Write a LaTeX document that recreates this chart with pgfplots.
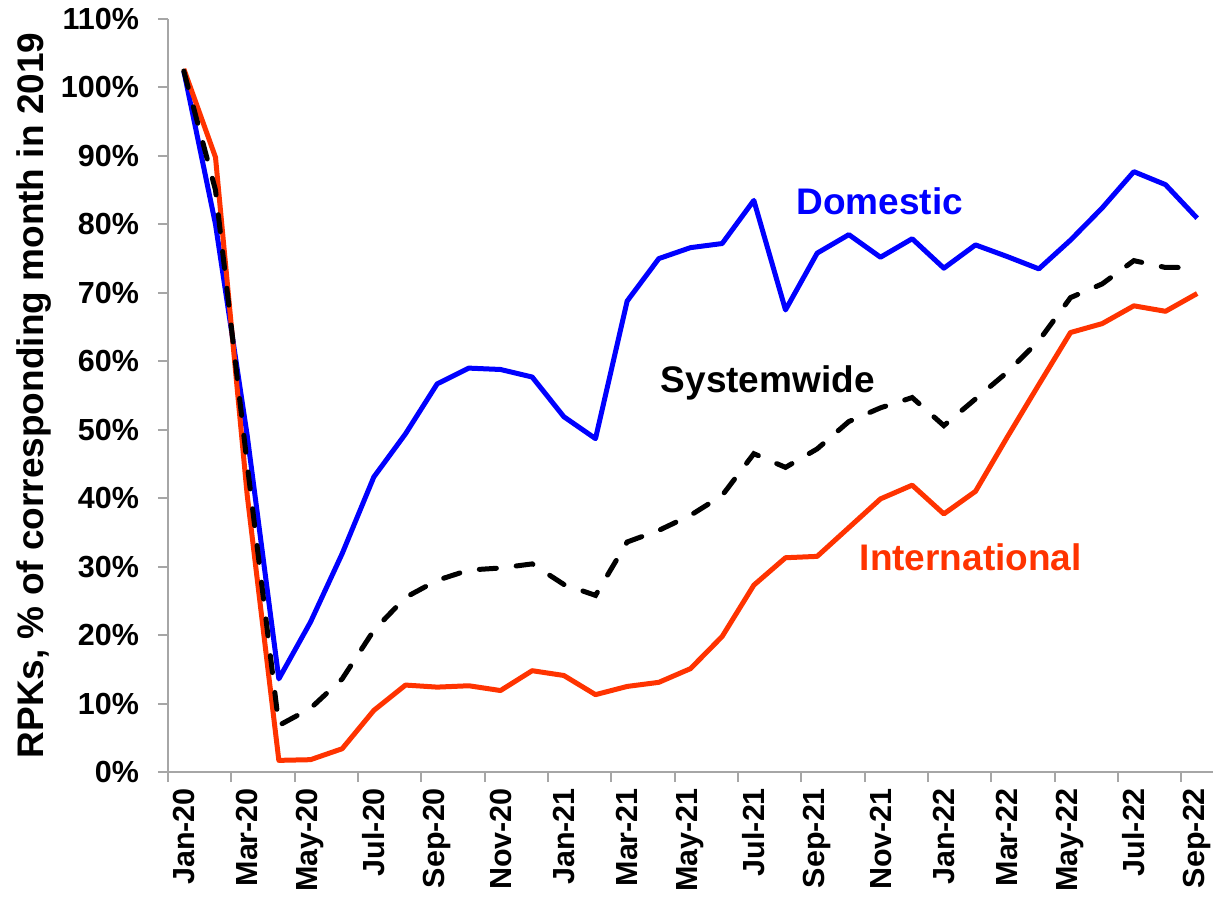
\documentclass[border=0pt]{standalone}
\usepackage{pgfplots}
\pgfplotsset{compat=1.18}
\usepackage{fontspec}
\setmainfont{Liberation Sans}
\definecolor{dom}{RGB}{0,0,255}
\definecolor{intl}{RGB}{255,51,0}
\definecolor{axgray}{RGB}{166,166,166}
\pgfplotstableread{
i dom intl sys
0 102.4 102.7 102.4
1 80.0 89.8 85.0
2 49.2 40.5 45.0
3 13.6 1.7 6.8
4 21.9 1.8 9.3
5 31.9 3.4 13.6
6 43.1 9.0 20.7
7 49.4 12.7 25.5
8 56.7 12.4 28.0
9 59.0 12.6 29.5
10 58.8 11.9 29.8
11 57.7 14.8 30.4
12 51.9 14.1 27.4
13 48.7 11.3 25.8
14 68.8 12.5 33.6
15 75.0 13.1 35.3
16 76.6 15.1 37.5
17 77.2 19.8 40.4
18 83.5 27.3 46.5
19 67.5 31.3 44.5
20 75.8 31.5 47.2
21 78.5 35.7 51.2
22 75.2 39.9 53.2
23 77.9 41.9 54.7
24 73.6 37.7 50.6
25 77.0 41.0 54.5
26 75.3 48.9 58.4
27 73.5 56.6 63.0
28 77.7 64.2 69.3
29 82.4 65.5 71.3
30 87.7 68.1 74.7
31 85.8 67.3 73.7
32 80.9 69.9 73.7
}\datatable
\begin{document}
\begin{tikzpicture}
\begin{axis}[
  scale only axis, width=522.5pt, height=376.5pt,
  xmin=-0.5, xmax=32.5, ymin=0, ymax=110,
  axis x line=bottom, axis y line=left,
  axis line style={axgray, line width=1pt, -},
  tick style={axgray, line width=1pt},
  tick align=outside, major tick length=5pt,
  xtick={-0.5,1.5,...,31.5}, xticklabels={},
  extra x ticks={0,2,...,32},
  extra x tick labels={Jan-20,Mar-20,May-20,Jul-20,Sep-20,Nov-20,Jan-21,Mar-21,May-21,Jul-21,Sep-21,Nov-21,Jan-22,Mar-22,May-22,Jul-22,Sep-22},
  extra x tick style={major tick length=0pt},
  xticklabel style={rotate=90, anchor=east},
  xticklabel shift=4.5pt,
  yticklabel shift=6pt,
  ytick={0,10,...,110},
  yticklabels={0\%,10\%,20\%,30\%,40\%,50\%,60\%,70\%,80\%,90\%,100\%,110\%},
  tick label style={font=\fontsize{15.25}{18}\selectfont\bfseries, text=black},
  ylabel={RPKs, \% of corresponding month in 2019},
  ylabel style={font=\fontsize{18.5}{22}\selectfont\bfseries, at={(axis description cs:-0.1196,0.5)}, anchor=base},
  clip=false,
]
\addplot[dom, line width=2.5pt, line join=round] table[x=i, y=dom] {\datatable};
\addplot[intl, line width=2.5pt, line join=round] table[x=i, y=intl] {\datatable};
\addplot[black, line width=2.5pt, line cap=round, dash pattern=on 8.5pt off 10pt] table[x=i, y=sys] {\datatable};
\node[text=dom, anchor=base, font=\fontsize{18.5}{22}\selectfont\bfseries] at (axis cs:21.98,81.5) {Domestic};
\node[text=black, anchor=base, font=\fontsize{18.5}{22}\selectfont\bfseries] at (axis cs:18.44,55.4) {Systemwide};
\node[text=intl, anchor=base, font=\fontsize{18.5}{22}\selectfont\bfseries] at (axis cs:24.85,29.4) {International};
\end{axis}
\pgfresetboundingbox
\path (-84pt,-64pt) rectangle (523pt,386pt);
\end{tikzpicture}
\end{document}
